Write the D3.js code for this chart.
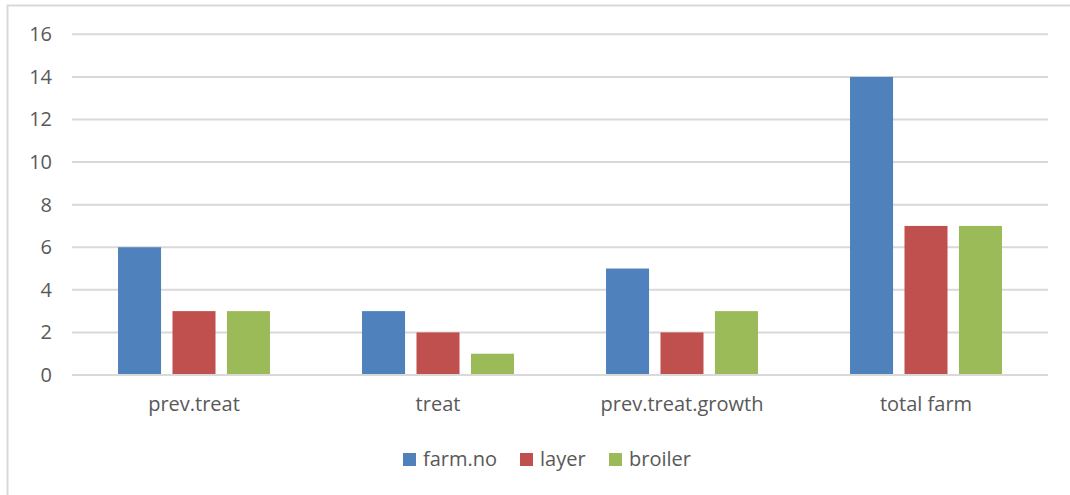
<!DOCTYPE html>
<html>
<head>
<meta charset="utf-8">
<script src="https://cdn.jsdelivr.net/npm/d3@7"></script>
<style>
  html, body { margin: 0; padding: 0; background: #fff; }
  svg { display: block; }
  text { font-family: "Open Sans", "Liberation Sans", sans-serif; fill: #595959; }
</style>
</head>
<body>
<svg id="chart" width="1070" height="495"></svg>
<script>
// Farm counts per treatment category
const categories = ["prev.treat", "treat", "prev.treat.growth", "total farm"];
const seriesNames = ["farm.no", "layer", "broiler"];
const farmNo = [6, 3, 5, 14];
const layer = [3, 2, 2, 7];
const broiler = [3, 1, 3, 7];
const yTicks = [0, 2, 4, 6, 8, 10, 12, 14, 16];
const colors = ["#4F81BD", "#C0504D", "#9BBB59"];

const seriesValues = [farmNo, layer, broiler];
const rows = categories.map((c, i) => ({
  category: c,
  values: seriesNames.map((s, j) => ({ series: s, value: seriesValues[j][i] }))
}));

const svg = d3.select("#chart");
const W = 1070, H = 495;
const plot = { left: 72, right: 1048, top: 34.3, bottom: 375 };

// Outer chart frame
svg.append("path")
  .attr("d", `M7.5,${H} L7.5,5.5 L${W},5.5`)
  .attr("fill", "none")
  .attr("stroke", "#d9d9d9")
  .attr("stroke-width", 2);

const x0 = d3.scaleBand()
  .domain(categories)
  .range([plot.left, plot.right])
  .paddingInner(0)
  .paddingOuter(0);

const x1 = d3.scaleBand()
  .domain(seriesNames)
  .range([0, x0.bandwidth()])
  .paddingInner(0.21)
  .paddingOuter(0.845);

const y = d3.scaleLinear()
  .domain([0, 16])
  .range([plot.bottom, plot.top]);

const color = d3.scaleOrdinal().domain(seriesNames).range(colors);

// Horizontal gridlines
svg.append("g")
  .selectAll("line")
  .data(yTicks)
  .join("line")
  .attr("x1", plot.left)
  .attr("x2", plot.right)
  .attr("y1", d => y(d))
  .attr("y2", d => y(d))
  .attr("stroke", "#d9d9d9")
  .attr("stroke-width", 2);

// Y axis labels
const yAxis = d3.axisLeft(y).tickValues(yTicks).tickSize(0).tickPadding(20);
const yg = svg.append("g").attr("transform", `translate(${plot.left},0)`).call(yAxis);
yg.select(".domain").remove();
yg.selectAll("text")
  .attr("font-size", 20)
  .attr("fill", "#595959")
  .style("font-family", "\"Open Sans\", sans-serif");

// Bars
svg.append("g")
  .selectAll("g")
  .data(rows)
  .join("g")
  .attr("transform", d => `translate(${x0(d.category)},0)`)
  .selectAll("rect")
  .data(d => d.values)
  .join("rect")
  .attr("x", d => x1(d.series))
  .attr("width", x1.bandwidth())
  .attr("y", d => y(d.value))
  .attr("height", d => y(0) - y(d.value))
  .attr("fill", d => color(d.series));

// Baseline drawn over the bars
svg.append("line")
  .attr("x1", plot.left).attr("x2", plot.right)
  .attr("y1", y(0)).attr("y2", y(0))
  .attr("stroke", "#d9d9d9").attr("stroke-width", 2);

// Category labels
const xAxis = d3.axisBottom(x0).tickSize(0).tickPadding(22);
const xg = svg.append("g").attr("transform", `translate(0,${plot.bottom})`).call(xAxis);
xg.select(".domain").remove();
xg.selectAll("text")
  .attr("font-size", 20)
  .attr("fill", "#595959")
  .style("font-family", "\"Open Sans\", sans-serif");

// Legend
const legendItems = [
  { name: seriesNames[0], x: 403 },
  { name: seriesNames[1], x: 520 },
  { name: seriesNames[2], x: 609 }
];
const legend = svg.append("g");
const li = legend.selectAll("g").data(legendItems).join("g")
  .attr("transform", d => `translate(${d.x},453)`);
li.append("rect")
  .attr("width", 13).attr("height", 13)
  .attr("fill", d => color(d.name));
li.append("text")
  .attr("x", 20).attr("y", 13)
  .attr("font-size", 20)
  .text(d => d.name);
</script>
</body>
</html>
